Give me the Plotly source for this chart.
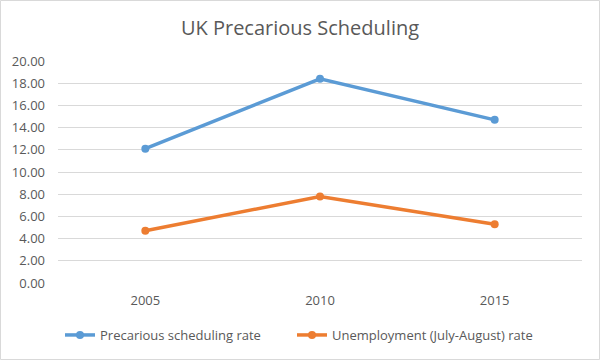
import plotly.graph_objects as go

years = ["2005", "2010", "2015"]
precarious = [12.1, 18.4, 14.7]
unemployment = [4.7, 7.8, 5.3]
y_ticks = [0, 2, 4, 6, 8, 10, 12, 14, 16, 18, 20]

W, H = 600, 360
ml, mr, mt, mb = 58, 18, 61, 77
pw, ph = W - ml - mr, H - mt - mb

fig = go.Figure()
fig.add_trace(go.Scatter(x=years, y=precarious, mode="lines+markers",
                         name="Precarious scheduling rate", legend="legend",
                         line=dict(color="#5B9BD5", width=3.5),
                         marker=dict(size=8, color="#5B9BD5")))
fig.add_trace(go.Scatter(x=years, y=unemployment, mode="lines+markers",
                         name="Unemployment (July-August) rate", legend="legend2",
                         line=dict(color="#ED7D31", width=3.5),
                         marker=dict(size=8, color="#ED7D31")))

# outer chart border
fig.add_shape(type="rect", xref="paper", yref="paper",
              x0=(0.5 - ml) / pw, x1=(W - 0.5 - ml) / pw,
              y0=-(mb - 0.5) / ph, y1=1 + (mt - 0.5) / ph,
              line=dict(color="#D9D9D9", width=1), fillcolor="rgba(0,0,0,0)")

leg_common = dict(orientation="h", xanchor="left",
                  y=-(335 - (H - mb)) / ph, yanchor="middle",
                  font=dict(size=13, color="#595959"),
                  itemwidth=30, bgcolor="rgba(0,0,0,0)")

fig.update_layout(
    width=W, height=H,
    margin=dict(l=ml, r=mr, t=mt, b=mb, autoexpand=False),
    paper_bgcolor="white", plot_bgcolor="white",
    font=dict(family="Open Sans", color="#595959", size=12),
    title=dict(text="UK Precarious Scheduling", x=0.5, xanchor="center",
               y=1 - 28 / H, yanchor="middle",
               font=dict(family="Open Sans", size=20, color="#595959")),
    showlegend=True,
    legend=dict(x=(60 - ml) / pw, **leg_common),
    legend2=dict(x=(292 - ml) / pw, **leg_common),
    xaxis=dict(type="category", range=[-0.5, 2.5], showgrid=False,
               showline=False, zeroline=False, ticks="",
               ticklabelstandoff=8, tickfont=dict(size=13)),
    yaxis=dict(range=[0, 20], tickvals=y_ticks, tickformat=".2f",
               showgrid=True, gridcolor="#D9D9D9", gridwidth=1,
               zeroline=False, showline=False, ticks="",
               ticklabelstandoff=12, tickfont=dict(size=13)),
)

fig.write_html("out.html", config={"displayModeBar": False},
               post_script="document.body.style.margin='0';document.body.style.padding='0';")
